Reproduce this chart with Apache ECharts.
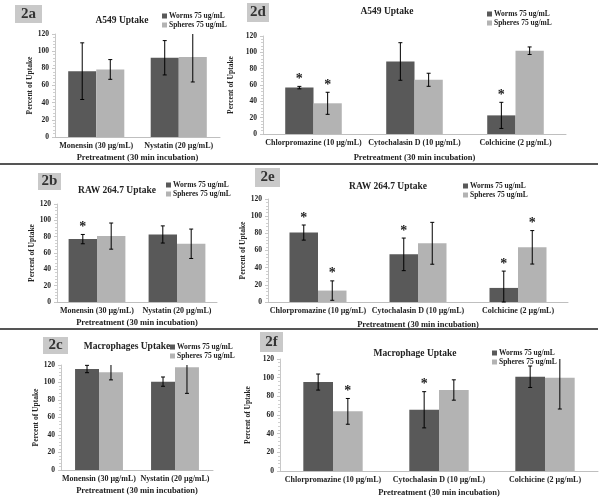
<!DOCTYPE html>
<html><head><meta charset="utf-8">
<script src="https://cdn.jsdelivr.net/npm/echarts@6/dist/echarts.min.js"></script>
<style>html,body{margin:0;padding:0;background:#fff}#c{width:600px;height:498px}</style>
</head><body><div id="c"></div>
<script>
// ---- data ----
const catsTwo = ['Monensin (30 µg/mL)', 'Nystatin (20 µg/mL)'];
const catsThree = ['Chlorpromazine (10 µg/mL)', 'Cytochalasin D (10 µg/mL)', 'Colchicine (2 µg/mL)'];
const seriesNames = ['Worms 75 ug/mL', 'Spheres 75 ug/mL'];
const yTicks = [0, 20, 40, 60, 80, 100, 120];

const a_worms = [76.7, 92.3], a_wormsErr = [33, 20], a_spheres = [78.7, 93.1], a_spheresErr = [11.5, 29];
const a_wormsStar = [0, 0], a_spheresStar = [0, 0];
const d_worms = [56.8, 88.8, 22.8], d_wormsErr = [1.5, 23, 16], d_spheres = [37.6, 66.4, 102], d_spheresErr = [13.5, 8, 4.6];
const d_wormsStar = [1, 0, 1], d_spheresStar = [1, 0, 0];
const b_worms = [77, 82.7], b_wormsErr = [5.7, 10.5], b_spheres = [80.7, 71.3], b_spheresErr = [16, 18];
const b_wormsStar = [1, 0], b_spheresStar = [0, 0];
const e_worms = [80.9, 55.5, 16.4], e_wormsErr = [8.8, 19, 19.6], e_spheres = [13.3, 68.4, 63.7], e_spheresErr = [11.3, 24.4, 19.5];
const e_wormsStar = [1, 1, 1], e_spheresStar = [1, 0, 1];
const c_worms = [115.4, 101], c_wormsErr = [4.2, 5.3], c_spheres = [111.6, 117.3], c_spheresErr = [8.6, 29.7];
const c_wormsStar = [0, 0], c_spheresStar = [0, 0];
const f_worms = [95.3, 65.6, 101], f_wormsErr = [8.6, 19.4, 11.5], f_spheres = [63.9, 86.8, 100], f_spheresErr = [13.8, 10.9, 33.6];
const f_wormsStar = [0, 1, 0], f_spheresStar = [1, 0, 0];

const panelLabels = ['2a', '2d', '2b', '2e', '2c', '2f'];
const panelTitles = ['A549 Uptake', 'A549 Uptake', 'RAW 264.7 Uptake', 'RAW 264.7 Uptake', 'Macrophages Uptake', 'Macrophage Uptake'];
const yName = 'Percent of Uptake';
const xName = 'Pretreatment (30 min incubation)';

// ---- layout / style ----
const FONT = '"Liberation Serif", "Times New Roman", serif';
const WORM_C = '#595959', SPH_C = '#b3b3b3';
const panels = [
  {cats: catsTwo, w: a_worms, we: a_wormsErr, s: a_spheres, se: a_spheresErr, ws: a_wormsStar, ss: a_spheresStar,
   grid: {left: 55, top: 34, width: 165, height: 103}, gap: 0.32, xNameGap: 16, title: [122, 22], legend: [162, 12], box: [15, 5, 27, 18]},
  {cats: catsThree, w: d_worms, we: d_wormsErr, s: d_spheres, se: d_spheresErr, ws: d_wormsStar, ss: d_spheresStar,
   grid: {left: 263, top: 36, width: 303, height: 98}, gap: 0.44, xNameGap: 19, title: [387, 13], legend: [487, 10], box: [247, 3, 22, 19]},
  {cats: catsTwo, w: b_worms, we: b_wormsErr, s: b_spheres, se: b_spheresErr, ws: b_wormsStar, ss: b_spheresStar,
   grid: {left: 57, top: 204, width: 160, height: 98}, gap: 0.29, xNameGap: 16, title: [117, 192], legend: [166, 181], box: [38, 173, 23, 17]},
  {cats: catsThree, w: e_worms, we: e_wormsErr, s: e_spheres, se: e_spheresErr, ws: e_wormsStar, ss: e_spheresStar,
   grid: {left: 268, top: 199, width: 300, height: 103}, gap: 0.43, xNameGap: 18, title: [388, 188], legend: [463, 182], box: [255, 168, 25, 19]},
  {cats: catsTwo, w: c_worms, we: c_wormsErr, s: c_spheres, se: c_spheresErr, ws: c_wormsStar, ss: c_spheresStar,
   grid: {left: 61, top: 365, width: 152, height: 105}, gap: 0.37, xNameGap: 16, title: [127, 348], legend: [170, 343], box: [43, 337, 25, 17]},
  {cats: catsThree, w: f_worms, we: f_wormsErr, s: f_spheres, se: f_spheresErr, ws: f_wormsStar, ss: f_spheresStar,
   grid: {left: 280, top: 359, width: 318, height: 114}, gap: 0.44, xNameGap: 17, title: [415, 355], legend: [492, 349], box: [260, 332, 23, 20]}
];

const chart = echarts.init(document.getElementById('c'), null, {renderer: 'canvas'});
const grid = [], xAxis = [], yAxis = [], series = [], legend = [], graphic = [];

function errSeries(pi, idx, vals, errs, stars, gap) {
  return {
    type: 'custom', xAxisIndex: pi, yAxisIndex: pi, z: 5, silent: true,
    data: vals.map((v, i) => [i, v, errs[i], stars[i]]),
    renderItem: function (params, api) {
      const i = api.value(0), v = api.value(1), e = api.value(2), st = api.value(3);
      const band = api.size([1, 0])[0];
      const bw = band * (1 - gap) / 2;
      const cx = api.coord([i, 0])[0] + (idx === 0 ? -bw / 2 : bw / 2);
      const hi = Math.min(v + e, 120), lo = Math.max(v - e, 0);
      const yh = api.coord([i, hi])[1], yl = api.coord([i, lo])[1];
      const st2 = {stroke: '#000', lineWidth: 1};
      const ch = [
        {type: 'line', shape: {x1: cx, y1: yh, x2: cx, y2: yl}, style: st2},
        {type: 'line', shape: {x1: cx - 2, y1: yl, x2: cx + 2, y2: yl}, style: st2}
      ];
      if (v + e <= 120) ch.push({type: 'line', shape: {x1: cx - 2, y1: yh, x2: cx + 2, y2: yh}, style: st2});
      if (st) ch.push({type: 'text', style: {text: '*', x: cx, y: yh, textAlign: 'center', textVerticalAlign: 'bottom',
        font: 'bold 14px ' + FONT, fill: '#222'}});
      return {type: 'group', children: ch};
    }
  };
}

panels.forEach((p, pi) => {
  grid.push(Object.assign({containLabel: false}, p.grid));
  xAxis.push({
    type: 'category', gridIndex: pi, data: p.cats,
    axisLine: {lineStyle: {color: '#bfbfbf', width: 1}}, axisTick: {show: false},
    axisLabel: {margin: 5, fontFamily: FONT, fontWeight: 'bold', fontSize: 8, color: '#222', interval: 0},
    name: xName, nameLocation: 'middle', nameGap: p.xNameGap,
    nameTextStyle: {fontFamily: FONT, fontWeight: 'bold', fontSize: 8.5, color: '#222'}
  });
  yAxis.push({
    type: 'value', gridIndex: pi, min: yTicks[0], max: yTicks[yTicks.length - 1], interval: 20,
    axisLine: {show: true, lineStyle: {color: '#c8c8c8'}},
    axisTick: {show: true, length: 3, lineStyle: {color: '#c8c8c8'}},
    minorTick: {show: true, splitNumber: 5, length: 2, lineStyle: {color: '#d0d0d0'}},
    splitLine: {show: false},
    axisLabel: {margin: 6, fontFamily: FONT, fontWeight: 'bold', fontSize: 7.5, color: '#222'},
    name: yName, nameLocation: 'middle', nameRotate: 90, nameGap: 19,
    nameTextStyle: {fontFamily: FONT, fontWeight: 'bold', fontSize: 7.5, color: '#222'}
  });
  const bcg = Math.round(p.gap * 100) + '%';
  series.push({name: seriesNames[0], type: 'bar', xAxisIndex: pi, yAxisIndex: pi, data: p.w, barGap: '0%', barCategoryGap: bcg,
    itemStyle: {color: WORM_C}, silent: true});
  series.push({name: seriesNames[1], type: 'bar', xAxisIndex: pi, yAxisIndex: pi, data: p.s, barGap: '0%', barCategoryGap: bcg,
    itemStyle: {color: SPH_C}, silent: true});
  series.push(errSeries(pi, 0, p.w, p.we, p.ws, p.gap));
  series.push(errSeries(pi, 1, p.s, p.se, p.ss, p.gap));
  legend.push({
    data: seriesNames, orient: 'vertical', left: p.legend[0], top: p.legend[1],
    itemWidth: 5, itemHeight: 5, itemGap: 1, icon: 'rect', selectedMode: false,
    textStyle: {fontFamily: FONT, fontWeight: 'bold', fontSize: 7.5, color: '#222', padding: [0, 0, 0, -3], lineHeight: 8},
    padding: 0
  });
  graphic.push({type: 'text', x: p.title[0], y: p.title[1] - 6, z: 10,
    style: {text: panelTitles[pi], font: 'bold 9.5px ' + FONT, fill: '#222', textAlign: 'center'}});
  graphic.push({type: 'rect', shape: {x: p.box[0], y: p.box[1], width: p.box[2], height: p.box[3]}, z: 10,
    style: {fill: '#c9c9c9'}});
  graphic.push({type: 'text', z: 11, x: p.box[0] + p.box[2] / 2, y: p.box[1] + p.box[3] / 2,
    style: {text: panelLabels[pi], font: 'bold 15px ' + FONT, fill: '#333', textAlign: 'center', textVerticalAlign: 'middle'}});
});

// separators
graphic.push({type: 'line', shape: {x1: 0, y1: 164, x2: 598, y2: 164}, style: {stroke: '#555', lineWidth: 2}, z: 10});
graphic.push({type: 'line', shape: {x1: 0, y1: 329, x2: 598, y2: 329}, style: {stroke: '#555', lineWidth: 2}, z: 10});

chart.setOption({animation: false, backgroundColor: '#fff', grid, xAxis, yAxis, series, legend, graphic});
</script></body></html>
